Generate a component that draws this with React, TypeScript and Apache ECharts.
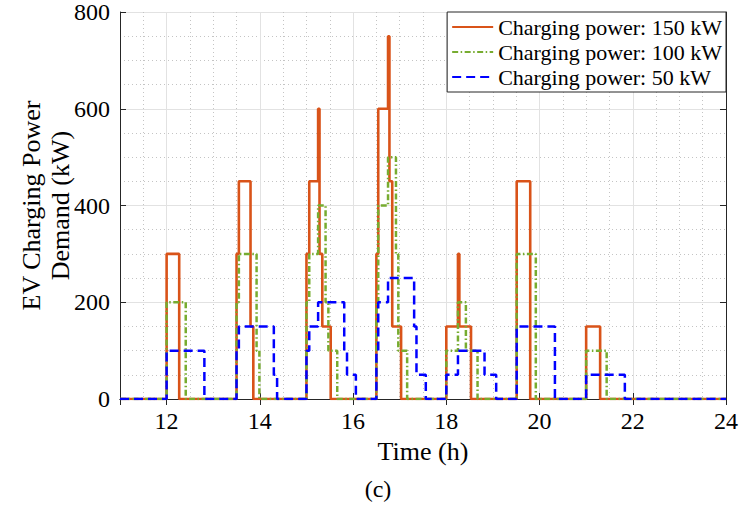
import React, { useEffect, useRef } from "react";
import * as echarts from "echarts";

// Step data: [time (h), demand (kW)] — value holds from that time until the next point
const p150: [number, number][] = [
  [11, 0],
  [12.0, 300], [12.27, 0],
  [13.5, 300], [13.55, 450], [13.8, 150], [13.86, 0],
  [15.0, 300], [15.06, 450], [15.25, 600], [15.28, 300], [15.34, 150], [15.52, 0],
  [16.5, 300], [16.54, 600], [16.75, 750], [16.78, 450], [16.84, 150], [17.03, 0],
  [18.0, 150], [18.25, 300], [18.28, 150], [18.53, 0],
  [19.51, 450], [19.8, 0],
  [21.0, 150], [21.3, 0],
  [24, 0],
];
const p100: [number, number][] = [
  [11, 0],
  [12.0, 200], [12.41, 0],
  [13.5, 200], [13.55, 300], [13.93, 100], [13.99, 0],
  [15.0, 200], [15.06, 300], [15.25, 400], [15.41, 200], [15.47, 100], [15.66, 0],
  [16.5, 200], [16.54, 400], [16.75, 500], [16.92, 300], [16.97, 100], [17.16, 0],
  [18.0, 100], [18.25, 200], [18.42, 100], [18.67, 0],
  [19.51, 300], [19.92, 0],
  [21.0, 100], [21.44, 0],
  [24, 0],
];
const p50: [number, number][] = [
  [11, 0],
  [12.0, 100], [12.81, 0],
  [13.5, 100], [13.55, 150], [14.3, 50], [14.37, 0],
  [15.0, 100], [15.06, 150], [15.25, 200], [15.81, 100], [15.87, 50], [16.06, 0],
  [16.5, 100], [16.54, 200], [16.75, 250], [17.31, 150], [17.36, 50], [17.56, 0],
  [18.0, 50], [18.25, 100], [18.82, 50], [19.07, 0],
  [19.51, 150], [20.33, 0],
  [21.0, 50], [21.83, 0],
  [24, 0],
];
const seriesNames = [
  "Charging power: 150 kW",
  "Charging power: 100 kW",
  "Charging power: 50 kW",
];
const xMin = 11;
const xMax = 24;
const yMin = 0;
const yMax = 800;

const FONT = "Liberation Serif";
const AX = "#262626";
const MAJOR = "#e2e2e2";
const MINOR = "#c4c4c4";

export default function App() {
  const ref = useRef<HTMLDivElement>(null);
  useEffect(() => {
    document.body.style.margin = "0";
    if (!ref.current) return;
    const chart = echarts.init(ref.current, undefined, { renderer: "svg" });
    const grid = { left: 120, right: 15, top: 12, bottom: 107 };
    chart.setOption({
      animation: false,
      backgroundColor: "#fff",
      grid,
      legend: {
        orient: "vertical",
        right: 15,
        top: 12,
        backgroundColor: "#fff",
        borderColor: AX,
        borderWidth: 1,
        borderRadius: 0,
        padding: [4, 4, 4, 4],
        itemGap: 3,
        itemWidth: 41,
        itemHeight: 20,
        itemStyle: { opacity: 0 },
        textStyle: { fontFamily: FONT, fontSize: 22, color: "#000", lineHeight: 22 },
        data: seriesNames,
      },
      xAxis: [
        {
          type: "value",
          min: xMin,
          max: xMax,
          splitNumber: 6,
          position: "bottom",
          name: "Time (h)",
          nameLocation: "middle",
          nameGap: 39,
          nameMoveOverlap: false,
          nameTextStyle: { fontFamily: FONT, fontSize: 26, color: "#000" },
          axisLine: { show: true, lineStyle: { color: AX, width: 1 } },
          axisTick: { show: true, inside: true, length: 6, lineStyle: { color: AX } },
          axisLabel: {
            fontFamily: FONT,
            fontSize: 24,
            color: "#000",
            margin: 10,
            showMinLabel: true,
            showMaxLabel: true,
            formatter: (v: number) => (v === xMin ? "" : String(v)),
          },
          splitLine: { show: true, lineStyle: { color: MAJOR, width: 1 } },
        },
        {
          type: "value",
          min: xMin,
          max: xMax,
          splitNumber: 6,
          position: "top",
          axisLine: { show: true, lineStyle: { color: AX, width: 1 } },
          axisTick: { show: true, inside: true, length: 6, lineStyle: { color: AX } },
          axisLabel: { show: false },
          splitLine: { show: false },
        },
        {
          type: "value",
          min: xMin,
          max: xMax,
          interval: 0.5,
          position: "bottom",
          axisLine: { show: false },
          axisTick: { show: false },
          axisLabel: { show: false },
          splitLine: {
            show: true,
            lineStyle: {
              color: [MINOR, MINOR, "rgba(0,0,0,0)", MINOR],
              width: 1,
              type: [1, 3],
            },
          },
        },
      ],
      yAxis: [
        {
          type: "value",
          min: yMin,
          max: yMax,
          interval: 200,
          position: "left",
          name: "EV Charging Power\nDemand (kW)",
          nameLocation: "middle",
          nameGap: 45,
          nameMoveOverlap: false,
          nameTextStyle: { fontFamily: FONT, fontSize: 26, color: "#000", lineHeight: 29 },
          axisLine: { show: true, lineStyle: { color: AX, width: 1 } },
          axisTick: { show: true, inside: true, length: 6, lineStyle: { color: AX } },
          axisLabel: { fontFamily: FONT, fontSize: 24, color: "#000", margin: 10 },
          splitLine: { show: true, lineStyle: { color: MAJOR, width: 1 } },
        },
        {
          type: "value",
          min: yMin,
          max: yMax,
          interval: 200,
          position: "right",
          axisLine: { show: true, lineStyle: { color: AX, width: 1 } },
          axisTick: { show: true, inside: true, length: 6, lineStyle: { color: AX } },
          axisLabel: { show: false },
          splitLine: { show: false },
        },
        {
          type: "value",
          min: yMin,
          max: yMax,
          interval: 50,
          position: "left",
          axisLine: { show: false },
          axisTick: { show: false },
          axisLabel: { show: false },
          splitLine: {
            show: true,
            lineStyle: {
              color: ["rgba(0,0,0,0)", MINOR, MINOR, MINOR],
              width: 1,
              type: [1, 3],
            },
          },
        },
      ],
      series: [
        {
          name: seriesNames[0],
          type: "line",
          step: "end",
          xAxisIndex: 0,
          yAxisIndex: 0,
          data: p150,
          showSymbol: false,
          symbol: "none",
          color: "#D95319",
          lineStyle: { color: "#D95319", width: 2.6, type: "solid" },
          z: 3,
        },
        {
          name: seriesNames[1],
          type: "line",
          step: "end",
          xAxisIndex: 0,
          yAxisIndex: 0,
          data: p100,
          showSymbol: false,
          symbol: "none",
          color: "#77AC30",
          lineStyle: { color: "#77AC30", width: 2.5, type: [6, 2.5, 1.5, 2.5] },
          z: 4,
        },
        {
          name: seriesNames[2],
          type: "line",
          step: "end",
          xAxisIndex: 0,
          yAxisIndex: 0,
          data: p50,
          showSymbol: false,
          symbol: "none",
          color: "#0000FF",
          lineStyle: { color: "#0000FF", width: 2.5, type: [9, 5] },
          z: 5,
        },
      ],
      graphic: [
        {
          type: "text",
          x: 378,
          y: 489,
          style: {
            text: "(c)",
            fontFamily: FONT,
            fontSize: 24,
            fill: "#000",
            align: "center",
            verticalAlign: "middle",
          },
        },
      ],
    });
    return () => chart.dispose();
  }, []);
  return (
    <div
      ref={ref}
      style={{ position: "fixed", left: 0, top: 0, width: 741, height: 506 }}
    />
  );
}
